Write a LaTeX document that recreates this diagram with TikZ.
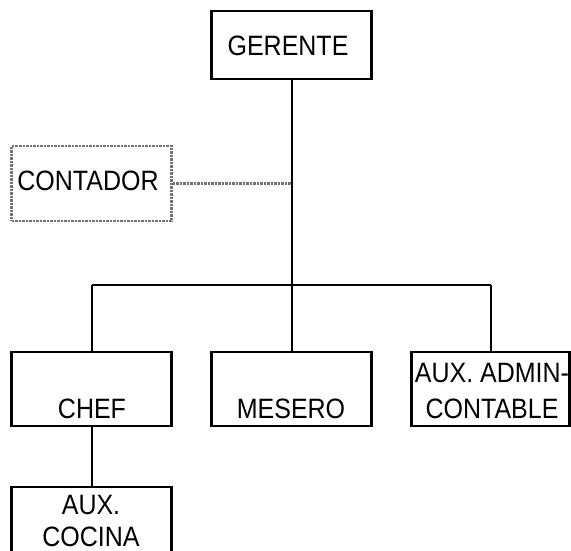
\documentclass[tikz,border=0pt]{standalone}
\usepackage{fontspec}
\setmainfont{Liberation Sans}
\usepackage{tikz}

\begin{document}
\begin{tikzpicture}[x=1pt,y=-1pt,
    box/.style={draw,line width=2.5pt,minimum width=160pt,minimum height=74pt,inner sep=0pt},
    dotbox/.style={draw=black!55,densely dotted,line width=2.5pt,minimum width=160pt,minimum height=75pt,inner sep=0pt},
    txt/.style={font=\fontsize{25}{28.5}\selectfont,align=center,inner sep=0pt,yscale=1.12,transform shape},
    link/.style={line width=2pt},
    dotlink/.style={draw=black!55,densely dotted,line width=2.5pt}]
    \useasboundingbox (0,0) rectangle (571,550);
    \coordinate (G) at (291.5,45);
    \coordinate (C) at (91.5,183.5);
    \coordinate (B) at (291.5,285);
    \coordinate (B1) at (91.5,285);
    \coordinate (B3) at (490.5,285);
    \coordinate (Ch) at (91.5,389);
    \coordinate (Me) at (291.5,389);
    \coordinate (Ad) at (490.5,389);
    \coordinate (Co) at (91.5,524);
    % cajas
    \node[box,minimum height=68pt] (gerente) at (G) {};
    \node[dotbox] (contador) at (C) {};
    \node[box] (chef) at (Ch) {};
    \node[box] (mesero) at (Me) {};
    \node[box,minimum width=158pt] (admin) at (Ad) {};
    \node[box] (cocina) at (Co) {};
    % textos
    \node[txt,anchor=base] (gerente-t) at (288,55) {GERENTE};
    \node[txt,anchor=base] (contador-t) at (88,190) {CONTADOR};
    \node[txt,anchor=base] (chef-t) at (92,418) {CHEF};
    \node[txt,anchor=base] (mesero-t) at (291,418) {MESERO};
    \node[txt,font=\fontsize{25}{32}\selectfont] (admin-t) at (492,391) {AUX. ADMIN-\\CONTABLE};
    \node[txt] (cocina-t) at (91,521) {AUX.\\COCINA};
    % lineas
    \draw[link] (gerente) -- (B);
    \draw[dotlink] (contador) -- (contador -| B);
    \draw[link] (B1) -- (B3);
    \draw[link] (B1) -- (chef);
    \draw[link] (B) -- (mesero);
    \draw[link] (B3) -- (admin);
    \draw[link] (chef) -- (cocina);
\end{tikzpicture}
\end{document}
